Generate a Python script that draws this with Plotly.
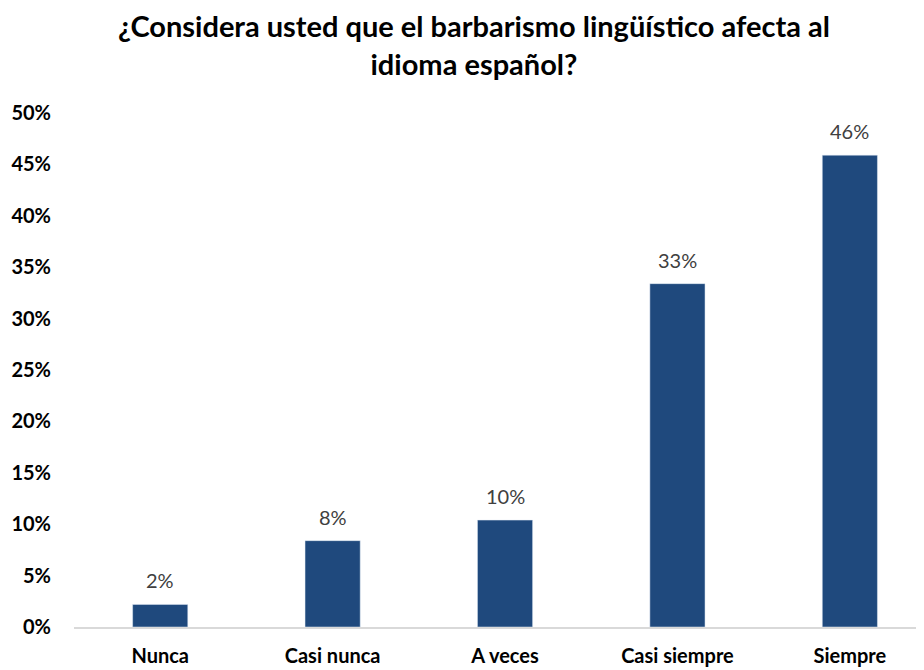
import plotly.graph_objects as go

categorias = ["Nunca", "Casi nunca", "A veces", "Casi siempre", "Siempre"]
porcentajes = [0.022, 0.084, 0.104, 0.334, 0.459]
ticks_y = [0, 0.05, 0.10, 0.15, 0.20, 0.25, 0.30, 0.35, 0.40, 0.45, 0.50]

fig = go.Figure()
fig.add_trace(go.Bar(
    x=categorias, y=porcentajes,
    marker=dict(color="#1F497D"),
    width=0.32,
))

# etiquetas de datos un poco por encima de cada barra
for c, v in zip(categorias, porcentajes):
    fig.add_annotation(x=c, y=v, text=f"{v:.0%}", showarrow=False,
                       yanchor="bottom", yshift=10,
                       font=dict(family="Lato", size=20, color="#404040"))

fig.add_annotation(
    text="¿Considera usted que el barbarismo lingüístico afecta al<br>idioma español?",
    xref="paper", yref="paper", x=0.47, y=1.0, yshift=107, xanchor="center", yanchor="top",
    showarrow=False,
    font=dict(family="Lato", size=29, color="#000000", weight="bold"),
)

# la página añade 8px de margen al body
fig.update_layout(
    width=916, height=662,
    margin=dict(l=66, r=0, t=105, b=43),
    plot_bgcolor="white", paper_bgcolor="white",
    showlegend=False,
)
fig.update_xaxes(range=[-0.5, 4.43], showline=True, linecolor="#D9D9D9", linewidth=2,
                 tickfont=dict(family="Lato", size=20, color="#000000", weight="bold"),
                 ticklabelstandoff=10, automargin=False)
fig.update_yaxes(range=[0, 0.5], tickvals=ticks_y, tickformat=".0%", showgrid=False,
                 zeroline=False, showline=False,
                 tickfont=dict(family="Lato", size=20, color="#000000", weight="bold"),
                 ticklabelstandoff=22, automargin=False)

fig.write_html("out.html")
